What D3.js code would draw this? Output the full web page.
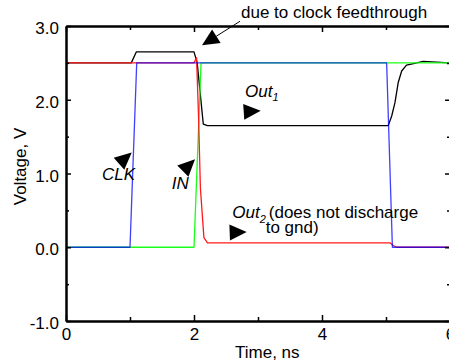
<!DOCTYPE html>
<html>
<head>
<meta charset="utf-8">
<script src="https://cdn.jsdelivr.net/npm/d3@7"></script>
<style>
  html, body { margin: 0; padding: 0; background: #fff; }
  svg { display: block; }
  text { font-family: "Liberation Sans", Arial, Helvetica, sans-serif; fill: #000; }
</style>
</head>
<body>
<svg id="chart" width="449" height="364"></svg>
<script>
// ---- data (time in ns, voltage in V) ----
const clkTime  = [0, 1.0, 1.105, 5.01, 5.10, 6.0];
const clkVolt  = [0, 0,   2.5,   2.5,  0,    0];

const inTime   = [0, 2.0, 2.11, 6.0];
const inVolt   = [0, 0,   2.5,  2.5];

const out1Time = [0, 1.02, 1.1, 2.0, 2.05, 2.145, 2.21, 5.036, 5.089, 5.14, 5.19, 5.245, 5.32, 5.43, 5.58, 5.79, 6.0];
const out1Volt = [2.5, 2.5, 2.65, 2.65, 2.5, 1.67, 1.65, 1.65, 1.78, 1.96, 2.23, 2.39, 2.47, 2.49, 2.52, 2.51, 2.5];

const out2Time = [0, 2.0, 2.04, 2.07, 2.10, 2.155, 2.21, 5.06, 5.12, 5.17, 6.0];
const out2Volt = [2.5, 2.5, 2.57, 1.8, 0.8, 0.13, 0.06, 0.06, 0.02, 0, 0];

const xMajorTicks = [0, 2, 4, 6];
const xTickLabels = ["0", "2", "4", "6"];
const xMinorTicks = [1, 3, 5];
const yMajorTicks = [-1, 0, 1, 2, 3];
const yTickLabels = ["-1.0", "0.0", "1.0", "2.0", "3.0"];
const yMinorTicks = [-0.5, 0.5, 1.5, 2.5];

// annotation arrows: tip and tail in data units
const arrowTips  = [[2.125, 2.739], [1.027, 1.284], [2.016, 1.193], [3.042, 1.851], [2.823, 0.207]];
const arrowTails = [[2.719, 3.064], [0.80, 1.11], [1.80, 1.01], [2.77, 1.835], [2.56, 0.199]];
const arrowShowTail = [true, false, false, false, false];

// ---- layout ----
const svg = d3.select("#chart");
const x = d3.scaleLinear().domain([0, 6]).range([66, 450]);
const y = d3.scaleLinear().domain([-1, 3]).range([321, 26]);

const FS = 17;

// ---- series ----
const line = d3.line().x(d => x(d[0])).y(d => y(d[1]));
const series = [
  { t: out1Time, v: out1Volt, color: "#000000", op: 1 },
  { t: inTime,   v: inVolt,   color: "#1aff1a", op: 1 },
  { t: out2Time, v: out2Volt, color: "#ff1a1a", op: 1 },
  { t: clkTime,  v: clkVolt,  color: "#0000ff", op: 0.75 }
];
series.forEach(s => {
  svg.append("path")
    .datum(s.t.map((t, i) => [t, s.v[i]]))
    .attr("d", line)
    .attr("fill", "none")
    .attr("stroke", s.color)
    .attr("stroke-opacity", s.op)
    .attr("stroke-width", 1.3)
    .attr("stroke-linejoin", "round");
});

// ---- axes ----
function styleAxis(g) {
  g.select(".domain").attr("stroke", "#000").attr("stroke-width", 2);
  g.selectAll(".tick line").attr("stroke", "#000").attr("stroke-width", 1.5);
  g.selectAll("text").attr("font-size", FS).attr("font-family", "Liberation Sans, Arial, sans-serif").attr("fill", "#000");
}
// bottom
svg.append("g").attr("transform", `translate(0,${y(-1)})`)
  .call(d3.axisBottom(x).tickValues(xMajorTicks).tickSize(-6).tickSizeOuter(0).tickPadding(7)
    .tickFormat((d, i) => xTickLabels[i]))
  .call(styleAxis);
svg.append("g").attr("transform", `translate(0,${y(-1)})`)
  .call(d3.axisBottom(x).tickValues(xMinorTicks).tickSize(-4).tickSizeOuter(0).tickFormat(""))
  .call(styleAxis);
// top
svg.append("g").attr("transform", `translate(0,${y(3)})`)
  .call(d3.axisTop(x).tickValues(xMajorTicks).tickSize(-6).tickSizeOuter(0).tickFormat(""))
  .call(styleAxis);
svg.append("g").attr("transform", `translate(0,${y(3)})`)
  .call(d3.axisTop(x).tickValues(xMinorTicks).tickSize(-4).tickSizeOuter(0).tickFormat(""))
  .call(styleAxis);
// left
svg.append("g").attr("transform", `translate(${x(0)},0)`)
  .call(d3.axisLeft(y).tickValues(yMajorTicks).tickSize(-5).tickSizeOuter(0).tickPadding(7)
    .tickFormat((d, i) => yTickLabels[i]))
  .call(styleAxis)
  .selectAll("text").attr("dy", "0.45em");
svg.append("g").attr("transform", `translate(${x(0)},0)`)
  .call(d3.axisLeft(y).tickValues(yMinorTicks).tickSize(-3).tickSizeOuter(0).tickFormat(""))
  .call(styleAxis);
// right
svg.append("g").attr("transform", `translate(${x(6)},0)`)
  .call(d3.axisRight(y).tickValues(yMajorTicks).tickSize(-5).tickSizeOuter(0).tickFormat(""))
  .call(styleAxis);
svg.append("g").attr("transform", `translate(${x(6)},0)`)
  .call(d3.axisRight(y).tickValues(yMinorTicks).tickSize(-3).tickSizeOuter(0).tickFormat(""))
  .call(styleAxis);

// ---- axis titles ----
svg.append("text").attr("x", 235).attr("y", 358).attr("font-size", FS).text("Time, ns");
svg.append("text").attr("transform", "translate(26,166.5) rotate(-90)")
  .attr("text-anchor", "middle").attr("font-size", FS).text("Voltage, V");

// ---- arrows ----
const HEAD_LEN = 17, HEAD_W = 8;
arrowTips.forEach((tipD, i) => {
  const tip = [x(tipD[0]), y(tipD[1])];
  const tail = [x(arrowTails[i][0]), y(arrowTails[i][1])];
  const dx = tip[0] - tail[0], dy = tip[1] - tail[1];
  const L = Math.hypot(dx, dy);
  const ux = dx / L, uy = dy / L;
  const bx = tip[0] - ux * HEAD_LEN, by = tip[1] - uy * HEAD_LEN;
  const px = -uy * HEAD_W, py = ux * HEAD_W;
  if (arrowShowTail[i]) {
    svg.append("line").attr("x1", tail[0]).attr("y1", tail[1]).attr("x2", bx).attr("y2", by)
      .attr("stroke", "#000").attr("stroke-width", 1);
  }
  svg.append("path")
    .attr("d", `M${tip[0]},${tip[1]}L${bx + px},${by + py}L${bx - px},${by - py}Z`)
    .attr("fill", "#000");
});

// ---- annotation labels ----
svg.append("text").attr("x", x(2.734)).attr("y", y(3.105)).attr("font-size", FS)
  .text("due to clock feedthrough");

const out1 = svg.append("text").attr("x", x(2.797)).attr("y", y(2.038)).attr("font-size", FS);
out1.append("tspan").attr("font-style", "italic").text("Out");
out1.append("tspan").attr("font-style", "italic").attr("font-size", 11).attr("dy", 4).text("1");

svg.append("text").attr("x", x(0.5625)).attr("y", y(0.9125)).attr("font-size", FS)
  .attr("font-style", "italic").text("CLK");
svg.append("text").attr("x", x(1.652)).attr("y", y(0.786)).attr("font-size", FS)
  .attr("font-style", "italic").text("IN");

const out2 = svg.append("text").attr("x", x(2.598)).attr("y", y(0.397)).attr("font-size", FS);
out2.append("tspan").attr("font-style", "italic").text("Out");
out2.append("tspan").attr("font-style", "italic").attr("font-size", 11).attr("dy", 5).text("2");
out2.append("tspan").attr("dy", -5).attr("dx", 3).text("(does not discharge");
svg.append("text").attr("x", x(3.12)).attr("y", y(0.194)).attr("font-size", FS).text("to gnd)");
</script>
</body>
</html>
